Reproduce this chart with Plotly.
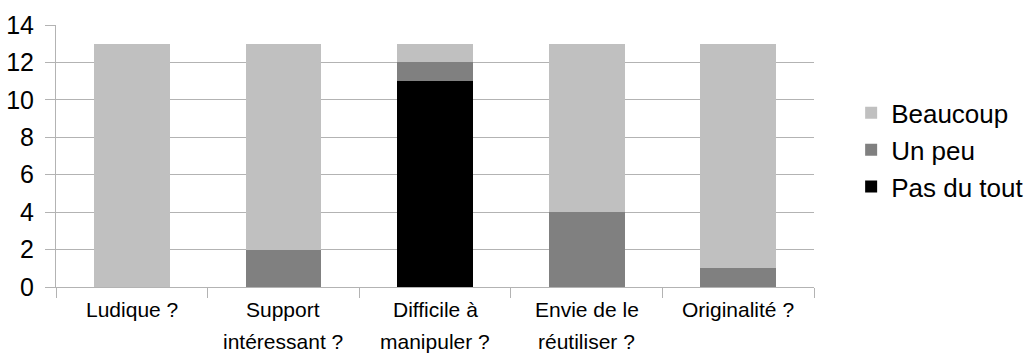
import plotly.graph_objects as go

categories = ["Ludique ?", "Support<br>intéressant ?", "Difficile à<br>manipuler ?",
              "Envie de le<br>réutiliser ?", "Originalité ?"]
pas_du_tout = [0, 0, 11, 0, 0]
un_peu = [0, 2, 1, 4, 1]
beaucoup = [13, 11, 1, 9, 12]

series = [
    ("Pas du tout", pas_du_tout, "#000000"),
    ("Un peu", un_peu, "#808080"),
    ("Beaucoup", beaucoup, "#c0c0c0"),
]

fig = go.Figure()
for name, vals, color in series:
    fig.add_trace(go.Bar(x=categories, y=vals, name=name,
                         marker=dict(color=color, line=dict(width=0))))

# Category labels drawn line by line for a looser line spacing
label_font = dict(family="Liberation Sans, Arial, sans-serif", size=21, color="#000000")
for cat in categories:
    for i, line in enumerate(cat.split("<br>")):
        fig.add_annotation(x=cat, y=0, xref="x", yref="paper", text=line,
                           showarrow=False, xanchor="center", yanchor="top",
                           yshift=-9 - 32 * i, font=label_font)

grid = "#b3b3b3"
fig.update_layout(
    barmode="stack",
    bargap=0.5,
    width=1030, height=356,
    margin=dict(l=56, r=216, t=25, b=69, autoexpand=False),
    plot_bgcolor="white", paper_bgcolor="white",
    font=dict(family="Liberation Sans, Arial, sans-serif", color="#000000"),
    showlegend=True,
    legend=dict(traceorder="reversed", x=1.049, y=0.523, xanchor="left", yanchor="middle",
                font=dict(size=26), bgcolor="rgba(0,0,0,0)"),
    xaxis=dict(showline=True, linecolor=grid, linewidth=1,
               ticks="outside", tickson="boundaries", ticklen=10, tickcolor=grid,
               showticklabels=False, showgrid=False),
    yaxis=dict(range=[0, 14], dtick=2, showline=True, linecolor=grid, linewidth=1,
               ticks="outside", ticklen=10, tickcolor=grid, ticklabelstandoff=6,
               showgrid=True, gridcolor=grid, gridwidth=1, zeroline=False,
               tickfont=dict(size=25)),
)

fig.write_html("out.html")
